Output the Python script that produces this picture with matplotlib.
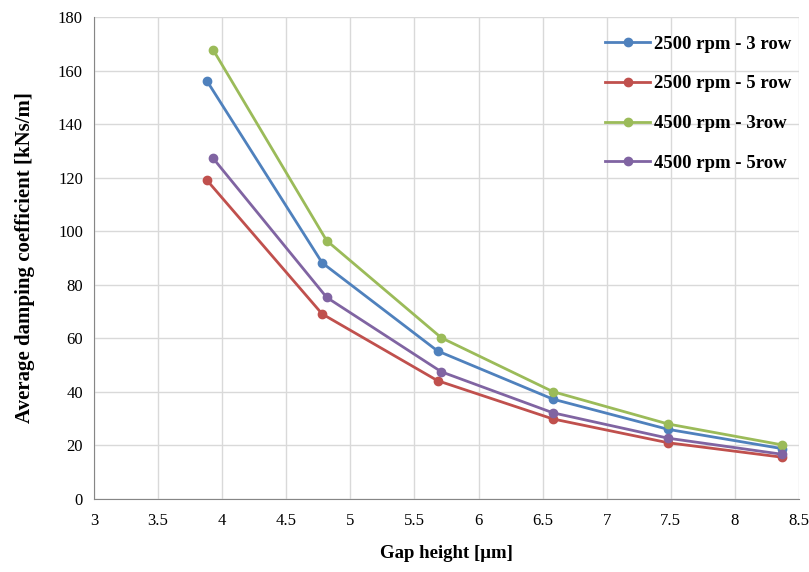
import matplotlib.pyplot as plt

plt.rcParams['font.family'] = ['Liberation Serif', 'DejaVu Serif']

# gap height [um]
gap_2500 = [3.88, 4.78, 5.68, 6.58, 7.48, 8.37]
gap_4500 = [3.93, 4.815, 5.71, 6.58, 7.48, 8.37]

# average damping coefficient [kNs/m]
rpm2500_3row = [156.2, 88.2, 55.3, 37.3, 26.0, 18.8]
rpm2500_5row = [119.1, 69.1, 44.2, 29.9, 21.0, 15.6]
rpm4500_3row = [167.7, 96.5, 60.2, 40.1, 28.0, 20.2]
rpm4500_5row = [127.2, 75.3, 47.5, 32.2, 22.7, 16.7]

labels = ['2500 rpm - 3 row', '2500 rpm - 5 row', '4500 rpm - 3row', '4500 rpm - 5row']
colors = ['#4F81BD', '#C0504D', '#9BBB59', '#8064A2']

fig = plt.figure(figsize=(8.09, 5.72), dpi=100)
ax = fig.add_axes([0.1162, 0.1276, 0.8714, 0.8427])

series = [(gap_2500, rpm2500_3row), (gap_2500, rpm2500_5row),
          (gap_4500, rpm4500_3row), (gap_4500, rpm4500_5row)]
for (x, y), lab, c in zip(series, labels, colors):
    ax.plot(x, y, '-o', color=c, lw=2, ms=6, label=lab)

ax.set_xlim(3, 8.5)
ax.set_ylim(0, 180)
ax.set_xticks([3, 3.5, 4, 4.5, 5, 5.5, 6, 6.5, 7, 7.5, 8, 8.5])
ax.set_xticklabels(['3', '3.5', '4', '4.5', '5', '5.5', '6', '6.5', '7', '7.5', '8', '8.5'])
ax.set_yticks(range(0, 181, 20))
ax.grid(True, color='#D9D9D9', lw=1)
ax.set_axisbelow(True)
ax.tick_params(length=0, labelsize=12)
ax.tick_params(axis='y', pad=8)
ax.tick_params(axis='x', pad=10)
for s in ['top', 'right']:
    ax.spines[s].set_visible(False)
for s in ['left', 'bottom']:
    ax.spines[s].set_color('#868686')

ax.set_xlabel('Gap height [μm]', fontsize=13.5, fontweight='bold')
ax.xaxis.set_label_coords(0.5, -0.095)
ax.set_ylabel('Average damping coefficient [kNs/m]', fontsize=15, fontweight='bold')
ax.yaxis.set_label_coords(-0.083, 0.5)

leg = ax.legend(loc='upper right', frameon=False, labelspacing=1.2,
                prop={'weight': 'bold', 'size': 13.5}, handlelength=2.4,
                handletextpad=0.2, borderaxespad=0.6, bbox_to_anchor=(1.016, 1.0))

fig.savefig('out.png', dpi=100)
